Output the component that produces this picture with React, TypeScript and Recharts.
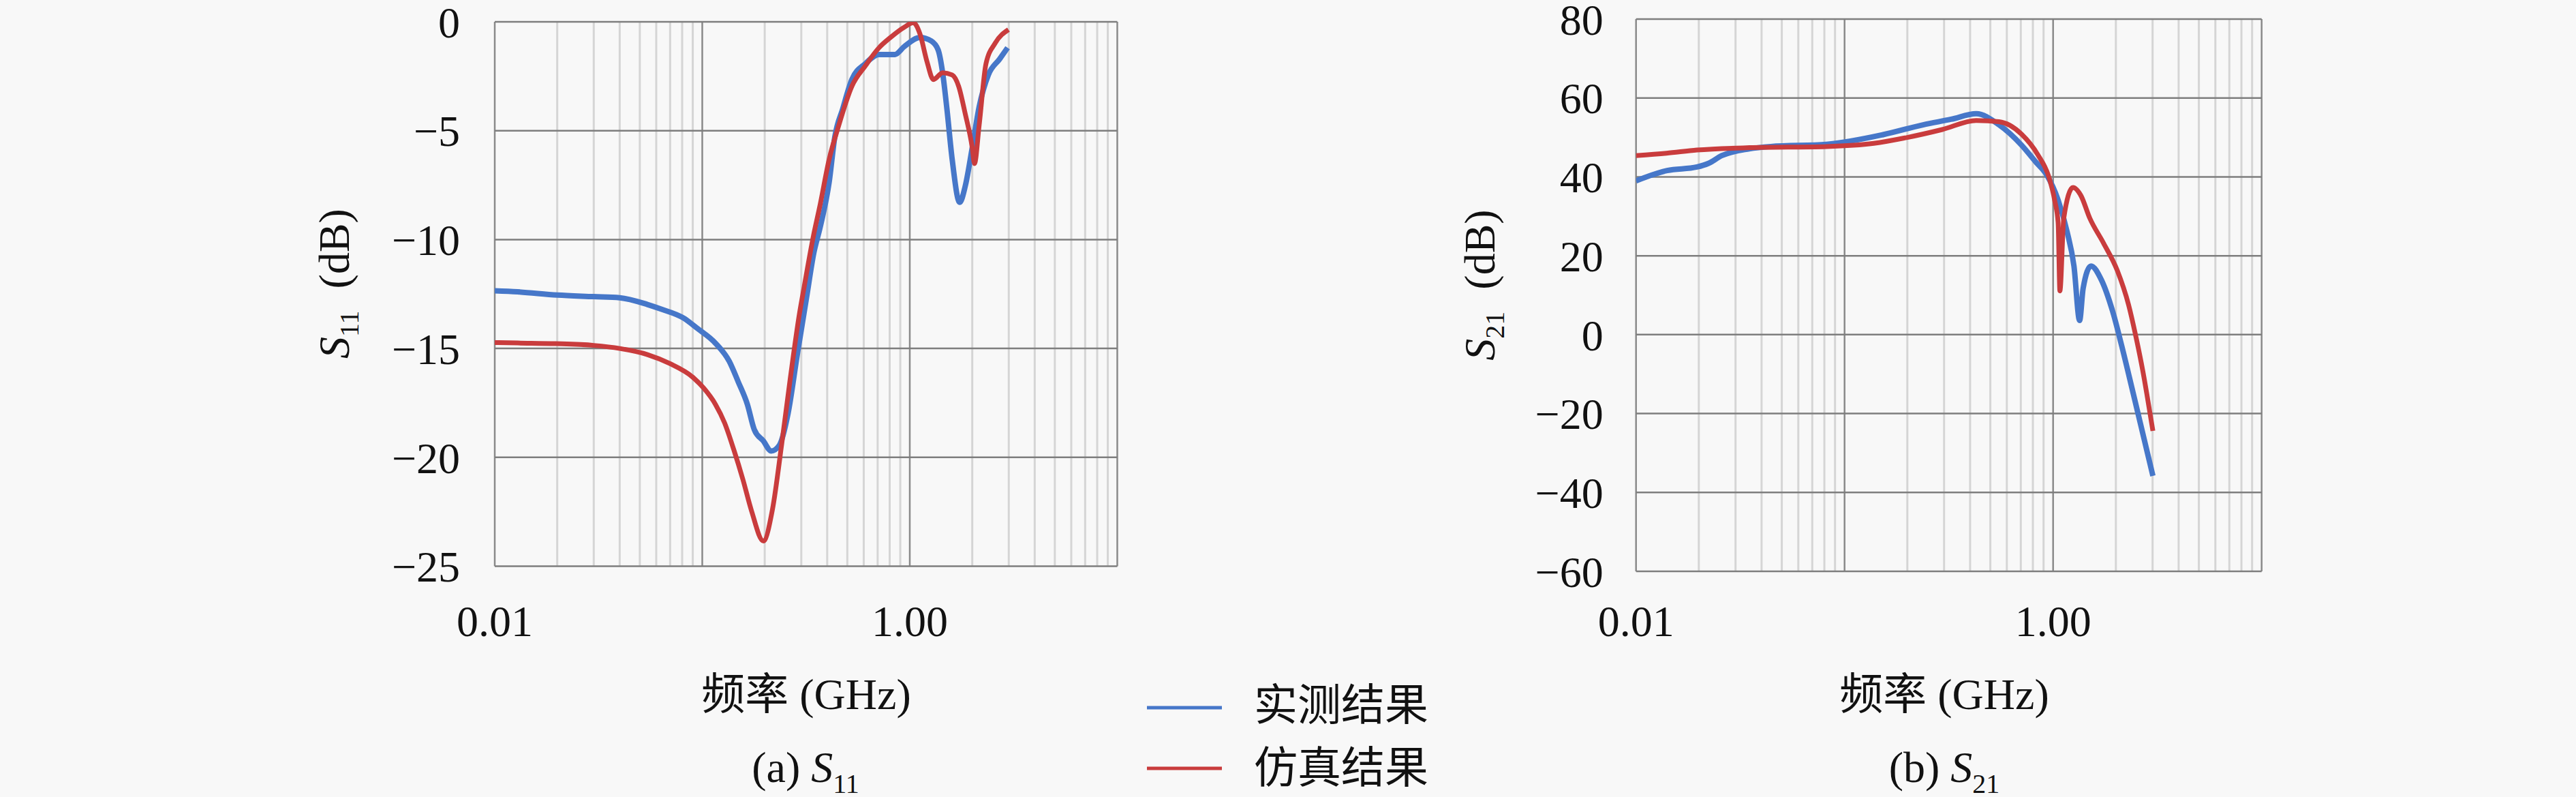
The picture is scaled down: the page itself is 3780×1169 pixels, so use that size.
import React from "react";
import { LineChart, Line, XAxis, YAxis, CartesianGrid } from "recharts";

// S11 measured / simulated (dB) vs frequency (GHz)
const s11MeasFreq = [0.01, 0.0129, 0.02, 0.03, 0.04, 0.0544, 0.0632, 0.0814, 0.0947, 0.1158, 0.1349, 0.149, 0.165, 0.178, 0.197, 0.215, 0.235, 0.259, 0.287, 0.318, 0.345, 0.37, 0.409, 0.435, 0.475, 0.526, 0.611, 0.711, 0.849, 0.94, 1.12, 1.27, 1.37, 1.44, 1.51, 1.6, 1.74, 1.85, 2.0, 2.16, 2.39, 2.71, 2.96];
const s11MeasDb = [-12.35, -12.4, -12.55, -12.62, -12.67, -12.98, -13.19, -13.61, -14.08, -14.76, -15.59, -16.53, -17.57, -18.72, -19.25, -19.71, -19.45, -17.99, -15.28, -12.67, -10.6, -9.43, -7.35, -5.3, -4.0, -2.65, -1.92, -1.5, -1.5, -1.14, -0.72, -0.88, -1.29, -2.34, -4.0, -6.3, -8.29, -7.55, -5.78, -3.9, -2.44, -1.71, -1.19];

const s11SimFreq = [0.01, 0.0129, 0.0196, 0.03, 0.04, 0.0544, 0.07, 0.09, 0.102, 0.1158, 0.128, 0.142, 0.157, 0.173, 0.197, 0.218, 0.241, 0.266, 0.294, 0.31, 0.343, 0.37, 0.409, 0.452, 0.526, 0.611, 0.711, 0.807, 0.94, 1.04, 1.12, 1.21, 1.3, 1.44, 1.6, 1.72, 1.85, 2.0, 2.05, 2.16, 2.33, 2.58, 2.99];
const s11SimDb = [-14.73, -14.75, -14.78, -14.86, -15.0, -15.28, -15.7, -16.32, -16.84, -17.57, -18.41, -19.66, -21.02, -22.48, -23.84, -22.38, -19.45, -16.32, -13.4, -12.15, -9.85, -8.39, -6.3, -4.84, -2.96, -2.02, -1.19, -0.72, -0.25, -0.04, -0.56, -1.82, -2.65, -2.34, -2.44, -2.96, -4.22, -5.78, -6.51, -4.74, -1.92, -0.98, -0.36];

// S21 measured / simulated (dB) vs frequency (GHz)
const s21MeasFreq = [0.01, 0.0141, 0.0196, 0.0222, 0.0258, 0.0349, 0.0443, 0.0818, 0.153, 0.238, 0.324, 0.428, 0.55, 0.707, 0.822, 0.932, 1.057, 1.167, 1.259, 1.34, 1.393, 1.52, 1.7, 1.93, 2.13, 2.42, 3.01];
const s21MeasDb = [39.0, 41.6, 42.5, 43.4, 45.4, 47.1, 47.7, 48.25, 50.7, 53.2, 54.6, 56.0, 53.2, 48.0, 43.9, 40.5, 34.1, 26.1, 17.4, 3.6, 11.7, 17.4, 14.0, 5.9, -2.7, -14.8, -35.8];

const s21SimFreq = [0.01, 0.014, 0.0196, 0.035, 0.082, 0.138, 0.2, 0.294, 0.428, 0.55, 0.707, 0.843, 0.955, 1.017, 1.057, 1.078, 1.125, 1.245, 1.358, 1.5, 1.745, 2.03, 2.3, 2.48, 2.74, 2.81, 3.01];
const s21SimDb = [45.4, 46.0, 46.8, 47.4, 47.7, 48.5, 50.0, 52.0, 54.3, 54.0, 50.8, 45.7, 39.9, 34.1, 28.4, 11.1, 29.5, 37.3, 35.3, 29.5, 23.2, 16.3, 7.6, 0.15, -11.4, -14.8, -24.4];

const freqTicks = [0.01, 1];
const decadeGrid = [0.01, 0.1, 1, 10];
const minorGrid = [
  0.02, 0.03, 0.04, 0.05, 0.06, 0.07, 0.08, 0.09,
  0.2, 0.3, 0.4, 0.5, 0.6, 0.7, 0.8, 0.9,
  2, 3, 4, 5, 6, 7, 8, 9,
];
const s11Ticks = [-25, -20, -15, -10, -5, 0];
const s21Ticks = [-60, -40, -20, 0, 20, 40, 60, 80];

const seriesNames = ["实测结果", "仿真结果"];
const BLUE = "#4677c9";
const RED = "#c93c3d";

const FONT = '"Liberation Serif", "Noto Sans CJK SC", serif';

const zip = (f: number[], v: number[]) => f.map((x, i) => ({ f: x, v: v[i] }));

const fmtY = (v: number) => (v < 0 ? "\u2212" + Math.abs(v) : String(v));

function Panel(props: any) {
  const { left, width, margin, yWidth, yDomain, yTicks, xTickMargin, yTickMargin, meas, sim } = props;
  return (
    <div style={{ position: "absolute", left, top: 0 }}>
      <LineChart width={width} height={1000} margin={margin}>
        <CartesianGrid horizontal={false} verticalValues={minorGrid} stroke="#d5d5d5" strokeWidth={3} />
        <CartesianGrid horizontal={false} verticalValues={decadeGrid} stroke="#8a8a8a" strokeWidth={2.5} />
        <CartesianGrid vertical={false} stroke="#7e7e7e" strokeWidth={2.5} />
        <XAxis
          type="number"
          dataKey="f"
          scale="log"
          domain={[0.01, 10]}
          allowDataOverflow
          ticks={freqTicks}
          interval={0}
          tickFormatter={(v: number) => v.toFixed(2)}
          axisLine={false}
          tickLine={false}
          tickSize={0}
          tickMargin={xTickMargin}
          height={120}
          tick={{ fill: "#111", fontSize: 64, fontFamily: FONT }}
        />
        <YAxis
          type="number"
          domain={yDomain}
          ticks={yTicks}
          interval={0}
          allowDataOverflow
          tickFormatter={fmtY}
          axisLine={false}
          tickLine={false}
          tickSize={0}
          tickMargin={yTickMargin}
          width={yWidth}
          tick={{ fill: "#111", fontSize: 64, fontFamily: FONT }}
        />
        <Line data={meas} dataKey="v" name={seriesNames[0]} type="monotone" stroke={BLUE} strokeWidth={8} dot={false} isAnimationActive={false} />
        <Line data={sim} dataKey="v" name={seriesNames[1]} type="monotone" stroke={RED} strokeWidth={7} dot={false} isAnimationActive={false} />
      </LineChart>
    </div>
  );
}

function YTitle({ x, y, sub }: { x: number; y: number; sub: string }) {
  return (
    <text transform={`translate(${x},${y}) rotate(-90)`} textAnchor="middle" fontSize={64} fontFamily={FONT} fill="#111">
      <tspan fontStyle="italic">S</tspan>
      <tspan fontSize={40} dy={14}>{sub}</tspan>
      <tspan dy={-14}>{"\u2002(dB)"}</tspan>
    </text>
  );
}

function Caption({ x, y, tag, sub }: { x: number; y: number; tag: string; sub: string }) {
  return (
    <text x={x} y={y} textAnchor="middle" fontSize={64} fontFamily={FONT} fill="#111">
      <tspan>{`(${tag}) `}</tspan>
      <tspan fontStyle="italic">S</tspan>
      <tspan fontSize={40} dy={16}>{sub}</tspan>
    </text>
  );
}

export default function App() {
  const s11Meas = zip(s11MeasFreq, s11MeasDb);
  const s11Sim = zip(s11SimFreq, s11SimDb);
  const s21Meas = zip(s21MeasFreq, s21MeasDb);
  const s21Sim = zip(s21SimFreq, s21SimDb);

  return (
    <div style={{ position: "absolute", left: 0, top: 0, width: 3780, height: 1169, background: "#f8f8f8", overflow: "hidden", fontFamily: FONT }}>
      <Panel
        left={0}
        width={1700}
        margin={{ top: 32, right: 60.5, left: 0, bottom: 49.5 }}
        yWidth={726}
        yDomain={[-25, 0]}
        yTicks={s11Ticks}
        xTickMargin={57}
        yTickMargin={51}
        meas={s11Meas}
        sim={s11Sim}
      />
      <Panel
        left={1700}
        width={2080}
        margin={{ top: 28, right: 461.3, left: 0, bottom: 42 }}
        yWidth={700.7}
        yDomain={[-60, 80]}
        yTicks={s21Ticks}
        xTickMargin={49.5}
        yTickMargin={48}
        meas={s21Meas}
        sim={s21Sim}
      />
      <svg width={3780} height={1169} style={{ position: "absolute", left: 0, top: 0, pointerEvents: "none" }}>
        <YTitle x={512} y={416} sub="11" />
        <YTitle x={2193} y={418} sub="21" />
        <text x={1183} y={1040} textAnchor="middle" fontSize={64} fontFamily={FONT} fill="#111">频率 (GHz)</text>
        <text x={2853} y={1040} textAnchor="middle" fontSize={64} fontFamily={FONT} fill="#111">频率 (GHz)</text>
        <Caption x={1182} y={1147} tag="a" sub="11" />
        <Caption x={2853} y={1147} tag="b" sub="21" />
        <line x1={1683} x2={1793} y1={1038} y2={1038} stroke={BLUE} strokeWidth={5} />
        <line x1={1683} x2={1793} y1={1127} y2={1127} stroke={RED} strokeWidth={5} />
        <text x={1840} y={1056} fontSize={64} fontFamily={FONT} fill="#111">{seriesNames[0]}</text>
        <text x={1840} y={1148} fontSize={64} fontFamily={FONT} fill="#111">{seriesNames[1]}</text>
      </svg>
    </div>
  );
}
